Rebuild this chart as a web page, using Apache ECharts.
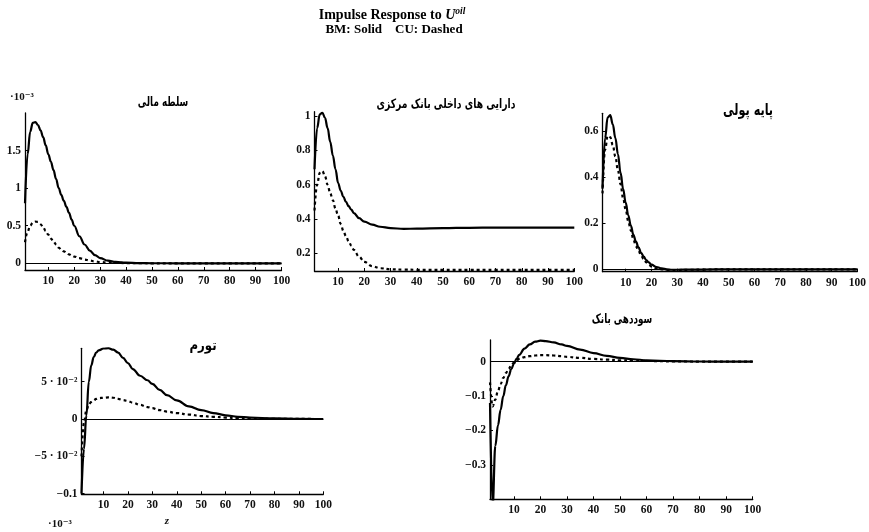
<!DOCTYPE html>
<html><head><meta charset="utf-8">
<script src="https://cdn.jsdelivr.net/npm/echarts@6/dist/echarts.min.js"></script>
<style>html,body{margin:0;padding:0;background:#fff}#c{width:869px;height:532px}</style>
</head><body><div id="c"></div>
<script>
// ---------- data ----------
const xTicks = [10,20,30,40,50,60,70,80,90,100];

// Panel 1: سلطه مالی (values in 1e-3)
const p1x  = [1,2,3,4,5,6,7,8,9,10,11,12,13,14,15,16,17,18,19,20,22,24,26,28,30,33,36,40,45,50,60,70,80,90,100];
const p1BM = [0.80,1.45,1.75,1.87,1.88,1.84,1.77,1.68,1.57,1.45,1.35,1.24,1.12,1.00,0.91,0.83,0.75,0.67,0.58,0.50,0.36,0.25,0.17,0.11,0.07,0.035,0.018,0.008,0.003,0.001,0,0,0,0,0];
const p1CU = [0.28,0.42,0.50,0.54,0.555,0.55,0.52,0.48,0.43,0.38,0.33,0.29,0.25,0.21,0.18,0.16,0.14,0.12,0.105,0.09,0.068,0.05,0.036,0.025,0.017,0.010,0.006,0.003,0.001,0,0,0,0,0,0];
const p1YTicks = [0,0.5,1,1.5];

// Panel 2: دارایی های داخلی بانک مرکزی
const p2x  = [1,2,3,4,5,6,7,8,9,10,11,12,13,14,15,16,18,20,23,26,30,35,40,50,60,70,80,90,100];
const p2BM = [0.69,0.93,1.01,1.02,0.99,0.93,0.85,0.77,0.69,0.61,0.565,0.53,0.50,0.475,0.455,0.435,0.405,0.385,0.367,0.355,0.347,0.343,0.344,0.347,0.349,0.35,0.35,0.35,0.35];
const p2CU = [0.45,0.60,0.67,0.68,0.65,0.60,0.55,0.51,0.46,0.42,0.37,0.33,0.30,0.27,0.245,0.22,0.18,0.15,0.125,0.113,0.107,0.105,0.104,0.104,0.104,0.104,0.104,0.104,0.104];
const p2YTicks = [0.2,0.4,0.6,0.8,1];

// Panel 3: پایه پولی
const p3x  = [1,2,3,4,5,6,7,8,9,10,11,12,13,14,15,16,17,18,19,20,22,24,26,28,30,35,40,50,60,70,80,90,100];
const p3BM = [0.35,0.57,0.66,0.67,0.63,0.57,0.50,0.42,0.35,0.29,0.235,0.19,0.15,0.12,0.095,0.072,0.055,0.04,0.03,0.02,0.01,0.004,0,-0.002,-0.002,-0.0015,-0.001,0,0,0,0,0,0];
const p3CU = [0.33,0.52,0.58,0.575,0.54,0.49,0.43,0.37,0.31,0.26,0.21,0.17,0.13,0.10,0.08,0.06,0.045,0.03,0.02,0.012,0.004,0,-0.003,-0.003,-0.003,-0.002,-0.001,0,0,0,0,0,0];
const p3YTicks = [0,0.2,0.4,0.6];

// Panel 4: تورم
const p4x  = [1,2,3,4,5,6,7,8,10,12,14,16,18,20,22,25,28,30,33,36,40,45,50,55,60,65,70,80,90,100];
const p4BM = [-0.1,-0.04,0.005,0.05,0.072,0.083,0.089,0.092,0.0945,0.095,0.093,0.089,0.082,0.075,0.067,0.058,0.052,0.047,0.039,0.032,0.025,0.017,0.012,0.008,0.005,0.003,0.002,0.0008,0.0003,0];
const p4CU = [-0.05,-0.005,0.012,0.019,0.023,0.025,0.027,0.028,0.0285,0.029,0.0285,0.027,0.0255,0.024,0.022,0.019,0.016,0.0145,0.012,0.010,0.008,0.006,0.004,0.003,0.002,0.0013,0.0008,0.0003,0.0001,0];
const p4YTicks = [-0.1,-0.05,0,0.05];
const p4YLabels = ['\u22120.1','\u22125 \u00b7 10\u207b\u00b2','0','5 \u00b7 10\u207b\u00b2'];

// Panel 5: سوددهی بانک
const p5x  = [1,2,3,4,5,6,7,8,9,10,11,12,14,16,18,20,22,25,28,30,35,40,45,50,55,60,70,80,90,100];
const p5BM = [-0.12,-0.42,-0.245,-0.185,-0.14,-0.10,-0.068,-0.043,-0.022,-0.006,0.008,0.02,0.038,0.05,0.058,0.061,0.06,0.056,0.05,0.046,0.035,0.025,0.017,0.011,0.007,0.004,0.0015,0.0005,0.0002,0];
const p5CU = [-0.06,-0.13,-0.11,-0.085,-0.065,-0.047,-0.033,-0.021,-0.011,-0.003,0.003,0.008,0.013,0.016,0.018,0.019,0.019,0.018,0.016,0.014,0.011,0.008,0.006,0.004,0.003,0.002,0.0008,0.0003,0.0001,0];
const p5YTicks = [-0.3,-0.2,-0.1,0];

const titles = ['سلطه مالی','دارایی های داخلی بانک مرکزی','پایه پولی','تورم','سوددهی بانک'];

// ---------- layout ----------
const SERIF = '"Liberation Serif","DejaVu Serif",serif';
const panels = [
  {x:p1x,bm:p1BM,cu:p1CU,min:-0.089,max:2.0,ticks:p1YTicks,labels:null,grid:{left:25,top:113,width:256.5,height:157},zero:true},
  {x:p2x,bm:p2BM,cu:p2CU,min:0.097,max:1.026,ticks:p2YTicks,labels:null,grid:{left:314.5,top:111.7,width:259.8,height:159.3},zero:false},
  {x:p3x,bm:p3BM,cu:p3CU,min:-0.0104,max:0.678,ticks:p3YTicks,labels:null,grid:{left:602.5,top:113.3,width:255,height:158.4},zero:true},
  {x:p4x,bm:p4BM,cu:p4CU,min:-0.1009,max:0.0948,ticks:p4YTicks,labels:p4YLabels,grid:{left:81.5,top:348.3,width:241.8,height:146},zero:true},
  {x:p5x,bm:p5BM,cu:p5CU,min:-0.4,max:0.063,ticks:p5YTicks,labels:null,grid:{left:490,top:340,width:262.7,height:159.3},zero:true}
];
// [centerX, centerY, fontSize, horizontal squeeze]
const titlePos = [[163,103,13,0.68],[446,105,13,0.71],[748,111,16,0.70],[203,346,14,0.84],[622,320,13,0.68]];

function fmtNum(v){ return (v<0?'\u2212':'') + String(Math.abs(Math.round(v*1000)/1000)); }

const grid=[], xAxis=[], yAxis=[], series=[];
panels.forEach((p,i)=>{
  grid.push(Object.assign({containLabel:false}, p.grid));
  xAxis.push({type:'value',gridIndex:i,min:1,max:100,
    axisLine:{show:true,onZero:false,lineStyle:{color:'#000',width:1.3}},
    axisTick:{show:true,inside:true,length:3,customValues:xTicks,lineStyle:{color:'#000'}},
    axisLabel:{show:true,customValues:xTicks,margin:5,color:'#111',fontFamily:SERIF,fontWeight:'bold',fontSize:11.5},
    splitLine:{show:false}});
  yAxis.push({type:'value',gridIndex:i,min:p.min,max:p.max,
    axisLine:{show:true,onZero:false,lineStyle:{color:'#000',width:1.3}},
    axisTick:{show:true,inside:true,length:3,customValues:p.ticks,lineStyle:{color:'#000'}},
    axisLabel:{show:true,customValues:p.ticks,margin:4,color:'#111',fontFamily:SERIF,fontWeight:'bold',fontSize:11.5,
      formatter:(v)=>{ if(p.labels){const k=p.ticks.findIndex(t=>Math.abs(t-v)<1e-9); if(k>=0) return p.labels[k];} return fmtNum(v);} },
    splitLine:{show:false}});
  const bmData = p.x.map((xv,k)=>[xv,p.bm[k]]);
  const cuData = p.x.map((xv,k)=>[xv,p.cu[k]]);
  const bm = {type:'line',xAxisIndex:i,yAxisIndex:i,data:bmData,smooth:0.4,smoothMonotone:'x',showSymbol:false,symbol:'none',
    lineStyle:{color:'#000',width:2.2},z:3,silent:true};
  if(p.zero){ bm.markLine={silent:true,symbol:'none',label:{show:false},lineStyle:{color:'#000',width:1,type:'solid'},data:[{yAxis:0}],animation:false}; }
  series.push(bm);
  series.push({type:'line',xAxisIndex:i,yAxisIndex:i,data:cuData,smooth:0.4,smoothMonotone:'x',showSymbol:false,symbol:'none',
    lineStyle:{color:'#000',width:2.2,type:[3,3]},z:3,silent:true});
});

const graphic = [
  {type:'text',x:392,y:15,style:{text:'{a|Impulse Response to }{u|U}{s|oil}',textAlign:'center',textVerticalAlign:'middle',
    rich:{a:{fontFamily:SERIF,fontWeight:'bold',fontSize:14,fill:'#000'},
          u:{fontFamily:SERIF,fontWeight:'bold',fontStyle:'italic',fontSize:14,fill:'#000'},
          s:{fontFamily:SERIF,fontWeight:'bold',fontStyle:'italic',fontSize:9.5,fill:'#000',verticalAlign:'top',lineHeight:17}}}},
  {type:'text',x:394,y:30,style:{text:'BM: Solid    CU: Dashed',textAlign:'center',textVerticalAlign:'middle',
    fontFamily:SERIF,fontWeight:'bold',fontSize:13,fill:'#000'}},
  {type:'text',x:10,y:97,style:{text:'\u00b710\u207b\u00b3',textAlign:'left',textVerticalAlign:'middle',fontFamily:SERIF,fontWeight:'bold',fontSize:11,fill:'#111'}},
  {type:'text',x:48,y:524,style:{text:'\u00b710\u207b\u00b3',textAlign:'left',textVerticalAlign:'middle',fontFamily:SERIF,fontWeight:'bold',fontSize:11,fill:'#111'}},
  {type:'text',x:167,y:521,style:{text:'z',textAlign:'center',textVerticalAlign:'middle',fontFamily:SERIF,fontStyle:'italic',fontWeight:'bold',fontSize:11,fill:'#111'}}
];
titles.forEach((t,i)=>{
  graphic.push({type:'text',x:titlePos[i][0],y:titlePos[i][1],scaleX:titlePos[i][3],scaleY:1,
    style:{text:t,textAlign:'center',textVerticalAlign:'middle',
    fontFamily:'"DejaVu Sans","Noto Sans",sans-serif',fontWeight:'bold',fontSize:titlePos[i][2],fill:'#000'}});
});

const chart = echarts.init(document.getElementById('c'),null,{renderer:'canvas'});
chart.setOption({animation:false,backgroundColor:'#fff',grid,xAxis,yAxis,series,graphic});
</script>
</body></html>
